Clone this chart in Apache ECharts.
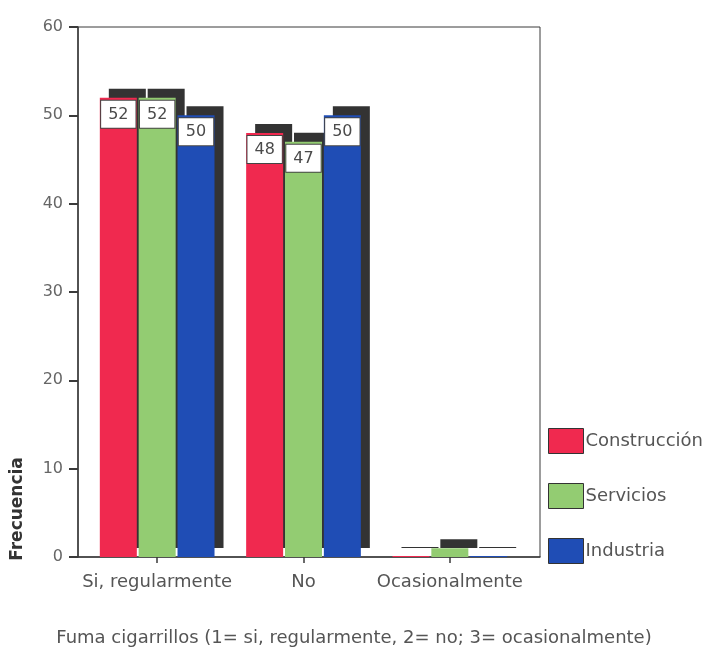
<!DOCTYPE html>
<html>
<head>
<meta charset="utf-8">
<style>
  html, body { margin: 0; padding: 0; background: #fff; }
  #chart { width: 708px; height: 652px; }
</style>
<script src="https://cdn.jsdelivr.net/npm/echarts@6/dist/echarts.min.js"></script>
</head>
<body>
<div id="chart"></div>
<script>
// Smoking frequency by sector
const categories = ['Si, regularmente', 'No', 'Ocasionalmente'];
const seriesNames = ['Construcción', 'Servicios', 'Industria'];
const construccion = [52, 48, 0];
const servicios = [52, 47, 1];
const industria = [50, 50, 0];
const seriesColors = ['#f0294f', '#93cc72', '#1f4db5'];

const FONT = 'DejaVu Sans';
const TEXT = '#555';
const LINE = '#3a3a3a';

const chart = echarts.init(document.getElementById('chart'), null, { renderer: 'canvas' });

// Frame grid (holds the y axis and the box outline) and data grid (bars + categories)
const frame = { left: 78, top: 27, width: 462, height: 530 };
const dataGrid = { left: 84, top: 27, width: 439, height: 530 };

function makeSeries(name, values, color) {
  return {
    name: name,
    type: 'bar',
    xAxisIndex: 1,
    yAxisIndex: 1,
    barWidth: 37,
    barGap: '5%',
    barMinHeight: 1,
    data: values.map(v => ({
      value: v,
      label: { show: v >= 5 }
    })),
    itemStyle: {
      color: color,
      borderWidth: 0,
      shadowColor: '#333',
      shadowBlur: 0,
      shadowOffsetX: 9,
      shadowOffsetY: -9
    },
    label: {
      position: 'insideTop',
      distance: 3,
      fontFamily: FONT,
      fontSize: 16,
      color: '#4a4a4a',
      backgroundColor: '#fff',
      borderColor: '#444',
      borderWidth: 1,
      padding: [6, 7, 5, 7]
    },
    emphasis: { disabled: true }
  };
}

const option = {
  animation: false,
  backgroundColor: '#fff',
  textStyle: { fontFamily: FONT },
  title: {
    text: 'Fuma cigarrillos (1= si, regularmente, 2= no; 3= ocasionalmente)',
    left: 'center',
    top: 629,
    padding: 0,
    textStyle: { fontFamily: FONT, fontSize: 18, fontWeight: 'normal', color: TEXT }
  },
  legend: {
    orient: 'vertical',
    left: 548,
    top: 428,
    padding: 0,
    itemWidth: 35,
    itemHeight: 25,
    itemGap: 29,
    icon: 'rect',
    selectedMode: false,
    data: seriesNames,
    itemStyle: {
      borderColor: '#333',
      borderWidth: 1,
      shadowColor: 'transparent',
      shadowOffsetX: 0,
      shadowOffsetY: 0
    },
    textStyle: { fontFamily: FONT, fontSize: 18, color: TEXT, padding: [0, 0, 0, -3] }
  },
  grid: [
    Object.assign({ show: true, borderColor: LINE, borderWidth: 1, backgroundColor: 'transparent' }, frame),
    Object.assign({}, dataGrid)
  ],
  xAxis: [
    {
      gridIndex: 0, type: 'value', min: 0, max: 1,
      axisLine: { show: true, onZero: false, lineStyle: { color: LINE, width: 1.5 } },
      axisTick: { show: false }, axisLabel: { show: false }, splitLine: { show: false }
    },
    {
      gridIndex: 1, type: 'category', data: categories,
      axisLine: { show: false },
      axisTick: { show: true, alignWithLabel: true, length: 6, lineStyle: { color: LINE, width: 1.5 } },
      axisLabel: { fontFamily: FONT, fontSize: 18, color: TEXT, margin: 16, interval: 0, hideOverlap: false },
      splitLine: { show: false }
    }
  ],
  yAxis: [
    {
      gridIndex: 0, type: 'value', min: 0, max: 60, interval: 10,
      axisLine: { show: true, lineStyle: { color: LINE, width: 1.5 } },
      axisTick: { show: true, length: 9, lineStyle: { color: LINE, width: 2 } },
      axisLabel: { fontFamily: FONT, fontSize: 16, color: '#666', margin: 15 },
      splitLine: { show: false }
    },
    {
      gridIndex: 1, type: 'value', min: 0, max: 60, interval: 10, show: false,
      splitLine: { show: false }
    }
  ],
  graphic: [
    {
      type: 'text',
      x: 18,
      y: 509,
      rotation: Math.PI / 2,
      style: {
        text: 'Frecuencia',
        fontFamily: FONT,
        fontSize: 17,
        fontWeight: 'bold',
        fill: '#333',
        align: 'center',
        verticalAlign: 'middle'
      }
    }
  ],
  series: [
    makeSeries(seriesNames[0], construccion, seriesColors[0]),
    makeSeries(seriesNames[1], servicios, seriesColors[1]),
    makeSeries(seriesNames[2], industria, seriesColors[2])
  ]
};

chart.setOption(option);
</script>
</body>
</html>
